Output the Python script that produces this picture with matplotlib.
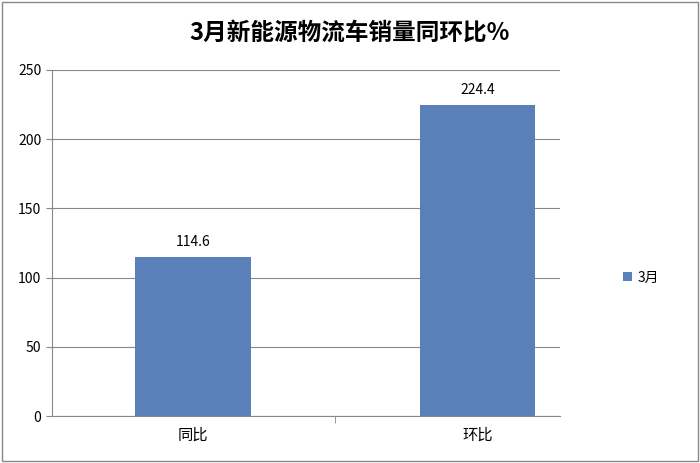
import matplotlib
matplotlib.use("Agg")
import matplotlib.pyplot as plt
from matplotlib.patches import Rectangle

plt.rcParams['font.family'] = ['Noto Sans CJK SC', 'DejaVu Sans']

categories = ["同比", "环比"]
values = [114.6, 224.4]
series_name = "3月"
yticks = [0, 50, 100, 150, 200, 250]

fig = plt.figure(figsize=(7, 4.63), dpi=100)
fig.patches.append(Rectangle((0.003, 0.004), 0.994, 0.992, transform=fig.transFigure,
                             fill=False, edgecolor="#888888", lw=1))
ax = fig.add_axes([0.074, 0.1015, 0.726, 0.7475])
x = range(len(categories))
ax.bar(x, values, width=0.405, color="#5A80BA", label=series_name)
for xi, v in zip(x, values):
    ax.text(xi, v + 6, f"{v}", ha="center", va="bottom", fontsize=10)
ax.set_xlim(-0.496, 1.29)
ax.set_ylim(0, 250)
ax.set_yticks(yticks)
ax.set_xticks(list(x))
ax.set_xticklabels(categories, fontsize=11)
ax.set_xticks([0.5], minor=True)
ax.tick_params(axis='x', which='minor', length=5, color="#888888")
ax.tick_params(axis='y', labelsize=10, length=4, color="#888888")
ax.tick_params(axis='x', which='major', length=0, pad=8)
ax.grid(axis='y', color="#888888", lw=0.8)
ax.set_axisbelow(True)
for s in ["top", "right"]:
    ax.spines[s].set_visible(False)
ax.spines["left"].set_color("#888888")
ax.spines["bottom"].set_color("#888888")
fig.text(0.5, 0.93, "3月新能源物流车销量同环比%", ha="center", va="center",
         fontsize=17, fontweight="bold")
ax.legend(loc="center left", bbox_to_anchor=(1.1, 0.4), frameon=False,
          fontsize=10, handlelength=0.6, handleheight=0.6, handletextpad=0.4)
fig.savefig("out.png", dpi=100)
